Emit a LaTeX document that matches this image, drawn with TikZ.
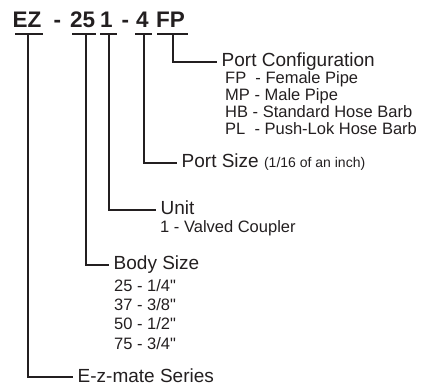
\documentclass[tikz,border=0pt]{standalone}
\usepackage{fontspec}
\setmainfont{Liberation Sans}[Ligatures=TeXOff]
\definecolor{ink}{HTML}{231F20}
\begin{document}
\begin{tikzpicture}[x=1pt,y=-1pt,
  link/.style={line width=1.8pt, draw=ink},
  ttl/.style={font=\fontsize{22.5}{26}\selectfont\bfseries, inner sep=0pt, anchor=base west, text=ink},
  lab/.style={font=\fontsize{19}{22}\selectfont, anchor=west, inner xsep=4.5pt, inner ysep=0pt, text height=10pt, text depth=0pt, text=ink},
  item/.style={font=\fontsize{16.5}{18}\selectfont, inner sep=0pt, anchor=base west, text=ink},
]
\useasboundingbox (0,0) rectangle (429,385);
% title pieces
\node[ttl] (tEZ) at (12.5,28) {EZ};
\node[ttl] (tD1) at (53.5,28) {-};
\node[ttl] (t25) at (70,28) {25};
\node[ttl] (t1) at (100,28) {1};
\node[ttl] (tD2) at (121.5,28) {-};
\node[ttl] (t4) at (136,28) {4};
\node[ttl] (tFP) at (156,28) {FP};
% underlines
\draw[link] (15,34) -- (43,34);
\draw[link] (72,34) -- (96,34);
\draw[link] (100,34) -- (117,34);
\draw[link] (135,34) -- (152,34);
\draw[link] (157,34) -- (188,34);
\coordinate (uEZ) at (28,34);
\coordinate (u25) at (86,34);
\coordinate (u1) at (109,34);
\coordinate (u4) at (144,34);
\coordinate (uFP) at (173,34);
% labels
\node[lab] (pc) at (217,62) {Port Configuration};
\node[lab] (ps) at (177,163) {Port Size {\fontsize{14}{16}\selectfont(1/16 of an inch)}};
\node[lab] (unit) at (156,210) {Unit};
\node[lab] (body) at (109,265) {Body Size};
\node[lab] (series) at (73,377) {E-z-mate Series};
% connectors
\draw[link] (uFP) |- (pc.west);
\draw[link] (u4) |- (ps.west);
\draw[link] (u1) |- (unit.west);
\draw[link] (u25) |- (body.west);
\draw[link] (uEZ) |- (series.west);
% items
\node[item] (fp) at (225,84) {FP\ \ - Female Pipe};
\node[item] (mp) at (225,101) {MP - Male Pipe};
\node[item] (hb) at (225,118) {HB - Standard Hose Barb};
\node[item] (pl) at (225,135) {PL\ \ - Push-Lok Hose Barb};
\node[item] (vc) at (160,233) {1 - Valved Coupler};
\node[item] (b25) at (114,291) {25 - 1/4"};
\node[item] (b37) at (114,310.5) {37 - 3/8"};
\node[item] (b50) at (114,330) {50 - 1/2"};
\node[item] (b75) at (114,349.5) {75 - 3/4"};
\end{tikzpicture}
\end{document}
